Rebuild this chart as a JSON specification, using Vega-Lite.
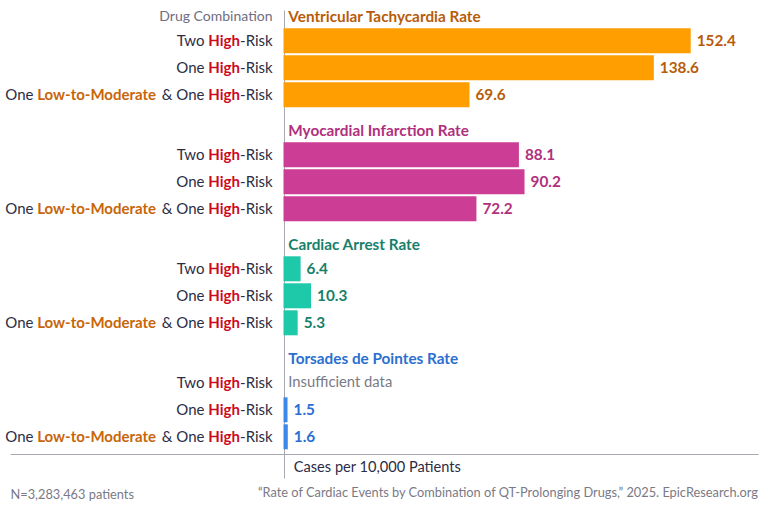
{
  "$schema": "https://vega.github.io/schema/vega-lite/v6.json",
  "width": 748,
  "height": 444,
  "autosize": "none",
  "padding": {"left": 10, "top": 10, "right": 10, "bottom": 58},
  "config": {"view": {"stroke": null}, "font": "Lato", "text": {"font": "Lato"}},
  "title": {
    "text": "“Rate of Cardiac Events by Combination of QT-Prolonging Drugs,” 2025. EpicResearch.org",
    "orient": "bottom", "anchor": "end", "frame": "group",
    "fontSize": 12.8, "fontWeight": "normal", "color": "#7a7a86", "font": "Lato",
    "offset": 0, "dy": -14
  },
  "data": {
    "values": [
      {"section": "Ventricular Tachycardia Rate", "combo": "Two High-Risk", "value": 152.4, "label": "152.4", "pre": "Two", "mod": "", "first": ""},
      {"section": "Ventricular Tachycardia Rate", "combo": "One High-Risk", "value": 138.6, "label": "138.6", "pre": "One", "mod": "", "first": ""},
      {"section": "Ventricular Tachycardia Rate", "combo": "One Low-to-Moderate & One High-Risk", "value": 69.6, "label": "69.6", "pre": "& One", "mod": "Low-to-Moderate", "first": "One"},
      {"section": "Myocardial Infarction Rate", "combo": "Two High-Risk", "value": 88.1, "label": "88.1", "pre": "Two", "mod": "", "first": ""},
      {"section": "Myocardial Infarction Rate", "combo": "One High-Risk", "value": 90.2, "label": "90.2", "pre": "One", "mod": "", "first": ""},
      {"section": "Myocardial Infarction Rate", "combo": "One Low-to-Moderate & One High-Risk", "value": 72.2, "label": "72.2", "pre": "& One", "mod": "Low-to-Moderate", "first": "One"},
      {"section": "Cardiac Arrest Rate", "combo": "Two High-Risk", "value": 6.4, "label": "6.4", "pre": "Two", "mod": "", "first": ""},
      {"section": "Cardiac Arrest Rate", "combo": "One High-Risk", "value": 10.3, "label": "10.3", "pre": "One", "mod": "", "first": ""},
      {"section": "Cardiac Arrest Rate", "combo": "One Low-to-Moderate & One High-Risk", "value": 5.3, "label": "5.3", "pre": "& One", "mod": "Low-to-Moderate", "first": "One"},
      {"section": "Torsades de Pointes Rate", "combo": "Two High-Risk", "value": null, "label": "Insufficient data", "pre": "Two", "mod": "", "first": ""},
      {"section": "Torsades de Pointes Rate", "combo": "One High-Risk", "value": 1.5, "label": "1.5", "pre": "One", "mod": "", "first": ""},
      {"section": "Torsades de Pointes Rate", "combo": "One Low-to-Moderate & One High-Risk", "value": 1.6, "label": "1.6", "pre": "& One", "mod": "Low-to-Moderate", "first": "One"}
    ]
  },
  "encoding": {
    "y": {
      "field": "section", "type": "nominal",
      "sort": ["Ventricular Tachycardia Rate", "Myocardial Infarction Rate", "Cardiac Arrest Rate", "Torsades de Pointes Rate"],
      "scale": {"paddingInner": 0.2895, "paddingOuter": 0.092, "align": 0.824},
      "axis": {
        "title": "N=3,283,463 patients", "domain": false, "ticks": false, "labels": false, "grid": false,
        "titleAngle": 0, "titleX": 0, "titleY": 484, "titleAlign": "left", "titleBaseline": "middle",
        "titleFontSize": 12.8, "titleFontWeight": "normal", "titleColor": "#7a7a86", "titleFont": "Lato"
      }
    },
    "yOffset": {
      "field": "combo", "type": "nominal",
      "sort": ["Two High-Risk", "One High-Risk", "One Low-to-Moderate & One High-Risk"],
      "scale": {"paddingInner": 0.074, "paddingOuter": 0.037}
    }
  },
  "resolve": {"scale": {"color": "independent"}},
  "layer": [
    {
      "mark": {"type": "bar"},
      "encoding": {
        "x": {
          "field": "value", "type": "quantitative",
          "scale": {"domain": [-102.36, 177.58], "nice": false, "zero": false},
          "axis": {
            "values": [0], "grid": true, "gridColor": "#a8a8b0", "ticks": true, "tickSize": 24, "tickColor": "#a8a8b0",
            "labels": false, "domain": true, "domainColor": "#a8a8b0",
            "title": "Cases per 10,000 Patients", "titleX": 283.3, "titleY": 13, "titleAlign": "left", "titleBaseline": "middle",
            "titleFontSize": 14.6, "titleFontWeight": "normal", "titleColor": "#2b2d45", "titleFont": "Lato"
          }
        },
        "x2": {"datum": 0},
        "color": {
          "field": "section", "type": "nominal", "legend": null,
          "scale": {"domain": ["Ventricular Tachycardia Rate", "Myocardial Infarction Rate", "Cardiac Arrest Rate", "Torsades de Pointes Rate"],
                    "range": ["#ff9e00", "#cc3d96", "#1dc9a8", "#3d87e8"]}
        }
      }
    },
    {
      "transform": [{"filter": "isValid(datum.value)"}],
      "mark": {"type": "text", "align": "left", "baseline": "middle", "dx": 6, "fontSize": 15.3, "fontWeight": "bold"},
      "encoding": {
        "x": {"field": "value", "type": "quantitative"},
        "text": {"field": "label"},
        "color": {
          "field": "section", "type": "nominal", "legend": null,
          "scale": {"domain": ["Ventricular Tachycardia Rate", "Myocardial Infarction Rate", "Cardiac Arrest Rate", "Torsades de Pointes Rate"],
                    "range": ["#b85c0a", "#b0307e", "#17806b", "#2a6fd0"]}
        }
      }
    },
    {
      "transform": [{"filter": "!isValid(datum.value)"}],
      "mark": {"type": "text", "align": "left", "baseline": "middle", "dx": 4.8, "fontSize": 14.8, "color": "#7a7a86"},
      "encoding": {"x": {"datum": 0}, "text": {"field": "label"}}
    },
    {
      "mark": {"type": "text", "align": "right", "baseline": "middle", "dx": -10.8, "fontSize": 15, "color": "#2b2d45"},
      "encoding": {"x": {"datum": 0}, "text": {"value": "-Risk"}}
    },
    {
      "mark": {"type": "text", "align": "right", "baseline": "middle", "dx": -43.5, "fontSize": 15, "fontWeight": "bold", "color": "#cc0a1e"},
      "encoding": {"x": {"datum": 0}, "text": {"value": "High"}}
    },
    {
      "mark": {"type": "text", "align": "right", "baseline": "middle", "dx": -79, "fontSize": 15, "color": "#2b2d45"},
      "encoding": {"x": {"datum": 0}, "text": {"field": "pre"}}
    },
    {
      "mark": {"type": "text", "align": "right", "baseline": "middle", "dx": -127.5, "fontSize": 15, "fontWeight": "bold", "color": "#c8650a"},
      "encoding": {"x": {"datum": 0}, "text": {"field": "mod"}}
    },
    {
      "mark": {"type": "text", "align": "right", "baseline": "middle", "dx": -250, "fontSize": 15, "color": "#2b2d45"},
      "encoding": {"x": {"datum": 0}, "text": {"field": "first"}}
    },
    {
      "transform": [{"filter": "datum.combo === 'Two High-Risk'"}],
      "mark": {"type": "text", "align": "left", "baseline": "middle", "dx": 4.8, "dy": -23.5, "fontSize": 15.3, "fontWeight": "bold"},
      "encoding": {
        "x": {"datum": 0},
        "text": {"field": "section"},
        "color": {
          "field": "section", "type": "nominal", "legend": null,
          "scale": {"domain": ["Ventricular Tachycardia Rate", "Myocardial Infarction Rate", "Cardiac Arrest Rate", "Torsades de Pointes Rate"],
                    "range": ["#b85c0a", "#b0307e", "#17806b", "#2a6fd0"]}
        }
      }
    },
    {
      "transform": [{"filter": "datum.combo === 'Two High-Risk' && datum.section === 'Ventricular Tachycardia Rate'"}],
      "mark": {"type": "text", "align": "right", "baseline": "middle", "dx": -11, "dy": -23.5, "fontSize": 14, "color": "#6e6e80"},
      "encoding": {"x": {"datum": 0}, "text": {"value": "Drug Combination"}}
    }
  ]
}
